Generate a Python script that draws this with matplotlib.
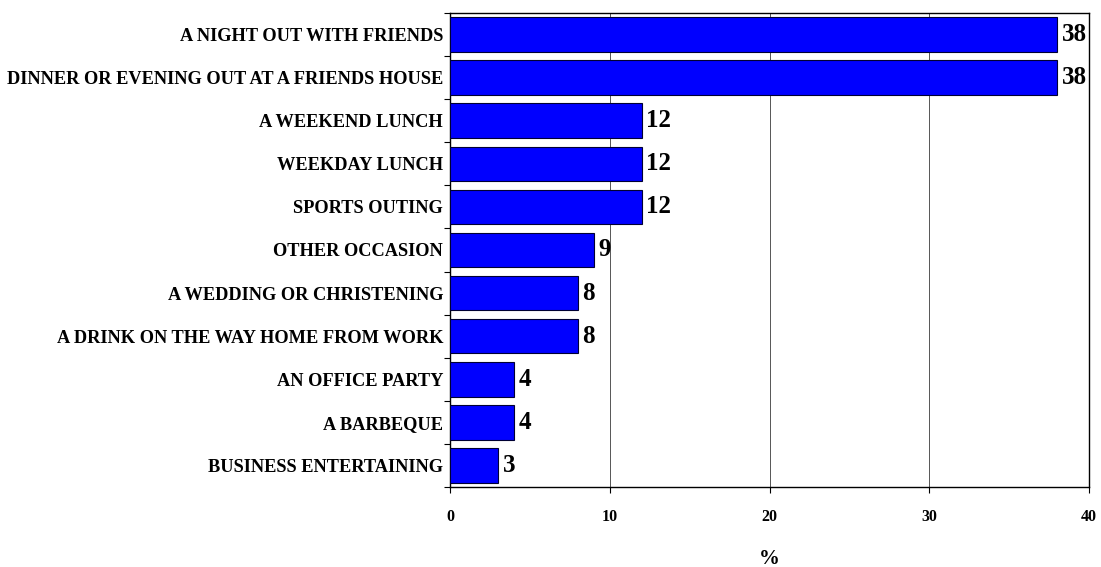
import matplotlib
matplotlib.use("Agg")
import matplotlib.pyplot as plt
import numpy as np

categories = [
    "A NIGHT OUT WITH FRIENDS",
    "DINNER OR EVENING OUT AT A FRIENDS HOUSE",
    "A WEEKEND LUNCH",
    "WEEKDAY LUNCH",
    "SPORTS OUTING",
    "OTHER OCCASION",
    "A WEDDING OR CHRISTENING",
    "A DRINK ON THE WAY HOME FROM WORK",
    "AN OFFICE PARTY",
    "A BARBEQUE",
    "BUSINESS ENTERTAINING",
]
values = [38, 38, 12, 12, 12, 9, 8, 8, 4, 4, 3]
xticks = [0, 10, 20, 30, 40]

plt.rcParams['font.family'] = ['Liberation Serif', 'DejaVu Serif']

fig = plt.figure(figsize=(11.01, 5.67), dpi=100)
ax = fig.add_axes([450/1101, 1 - 487/567, (1089-450)/1101, (487-13)/567])

n = len(categories)
ypos = np.arange(n)
ax.barh(ypos, values, height=0.8, color='#0000FF', edgecolor='#000033', linewidth=0.8, zorder=3)
for y, v in zip(ypos, values):
    ax.text(v + 0.3, y, str(v), va='center', ha='left', fontsize=18, fontweight='bold', zorder=4)

ax.set_xlim(0, 40)
ax.set_ylim(n - 0.5, -0.5)
ax.set_xticks(xticks)
ax.set_xticklabels([str(t) for t in xticks], fontsize=11.5, fontweight='bold')
ax.tick_params(axis='x', direction='out', length=4, pad=12, width=0.8)

ax.set_yticks(ypos)
ax.set_yticklabels(categories, fontsize=13.2, fontweight='bold')
ax.tick_params(axis='y', length=0, pad=5)
for lab in ax.get_yticklabels():
    lab.set_verticalalignment('center_baseline')
ax.set_yticks(np.arange(n + 1) - 0.5, minor=True)
ax.tick_params(axis='y', which='minor', direction='out', length=4, width=0.8)

ax.grid(axis='x', color='#555555', linewidth=0.7, zorder=0)
for s in ax.spines.values():
    s.set_linewidth(1.0)
    s.set_color('black')

ax.set_xlabel('%', fontsize=15, fontweight='bold', labelpad=17)

fig.savefig('out.png', dpi=100)
